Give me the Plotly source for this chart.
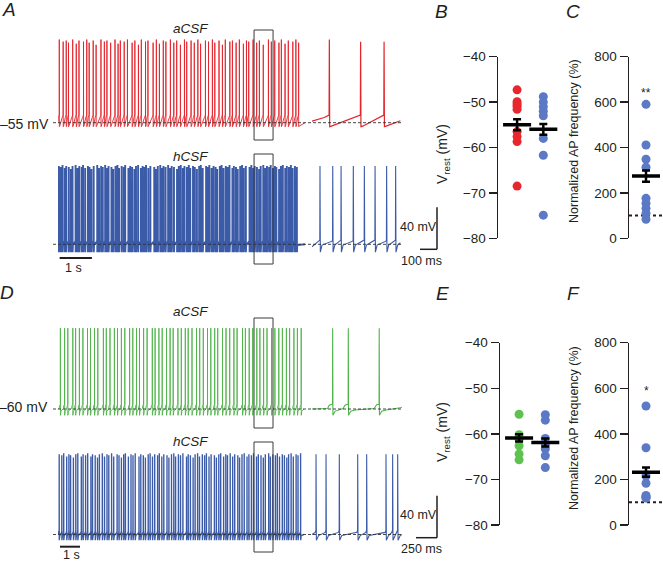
import plotly.graph_objects as go
from itertools import accumulate

W, H = 663, 561

# ---------------- data ----------------
# compressed recordings: inter-spike intervals in ms (first value = time of first spike)
red_acsf_isi_ms = [40, 120, 95, 70, 130, 110, 85, 140, 100, 75, 125, 90, 150, 105, 80, 115, 135, 95, 70, 120,
                   100, 145, 85, 110, 90, 130, 75, 160, 100, 95, 120, 80, 140, 105, 90, 115, 125, 70, 135, 100,
                   110, 85, 150, 95, 120, 75, 130, 105, 90, 140, 80, 115, 100, 125, 95, 70, 135, 110, 85, 120,
                   160, 90, 105, 130, 75, 115, 100, 140, 95, 85]
blue_hcsf_A_isi_ms = [25, 60, 55, 70, 45, 80, 65, 50, 95, 60, 55, 75, 40, 65, 85, 50, 60, 70, 110, 55,
                      65, 50, 75, 60, 45, 90, 55, 70, 60, 50, 80, 65, 45, 100, 55, 60, 70, 50, 65, 85,
                      55, 60, 45, 70, 65, 120, 50, 60, 75, 55, 45, 65, 80, 60, 50, 70, 95, 55, 60, 65,
                      50, 75, 60, 45, 85, 55, 65, 70, 50, 60, 105, 55, 45, 70, 60, 65, 50, 80, 55, 60,
                      70, 55, 60, 90, 45, 65, 55, 75, 60, 50, 65, 115, 55, 60, 45, 70, 65, 50, 80, 60,
                      55, 65, 50, 70, 60, 45, 85, 55, 60, 75, 50, 65, 60, 55, 70, 60]
green_acsf_isi_ms = [120, 210, 160, 250, 140, 190, 175, 230, 150, 200, 165, 280, 145, 185, 220, 155, 195, 170, 240, 160,
                     185, 150, 205, 175, 260, 140, 190, 165, 215, 180, 155, 235, 170, 200, 145, 190, 225, 160, 180, 210,
                     165, 195, 150, 240, 175, 185, 210, 160, 270, 145, 190, 175, 205, 155, 185, 170, 230, 165, 195, 180,
                     200, 160, 215, 175, 190]
blue_hcsf_D_isi_ms = [60, 130, 95, 150, 110, 85, 140, 120, 100, 175, 90, 125, 105, 160, 80, 135, 115, 95, 145, 110,
                      125, 90, 140, 105, 170, 95, 120, 115, 85, 150, 130, 100, 110, 190, 90, 125, 105, 140, 95, 120,
                      110, 145, 85, 125, 100, 160, 95, 130, 115, 90, 140, 105, 120, 180, 85, 110, 135, 100, 125, 95,
                      140, 115, 90, 130, 105, 165, 100, 120, 95, 145, 110, 85, 135, 125, 100, 155, 90, 120, 110, 140,
                      95, 125, 105, 150, 90, 135, 115, 100, 170, 85, 120, 130, 95, 110, 140, 105, 120, 90,
                      125, 110, 140, 95, 130]
# expanded windows: spike times in s
red_zoom_spikes_s = [0.102, 0.286, 0.424]
blue_A_zoom_spikes_s = [0.047, 0.122, 0.171, 0.243, 0.308, 0.371, 0.439, 0.492]
green_zoom_spikes_s = [0.246, 0.432, 0.800]
blue_D_zoom_spikes_s = [0.048, 0.167, 0.325, 0.544, 0.651, 0.881, 0.960, 1.020]
# spike peak variations (mV)
red_peak_var = [0, -2, -1, -3, 0, -4, -1, -2, 0, -3, -1, -5]
blue_peak_var = [0, -1, 1, -2, 0, -1, -3, 0, 1, -2]

# summary panels
vrest_B_acsf = [-47.3, -49.9, -50.4, -50.9, -51.6, -56.5, -57.6, -58.7, -68.5]
vrest_B_hcsf = [-48.8, -50.0, -51.0, -52.0, -53.0, -58.0, -61.7, -74.9]
vrest_B_mean = [-55.0, -56.0]
vrest_B_sem = [1.2, 1.2]
freq_C = [590, 411, 348, 313, 176, 154, 132, 110, 84]
freq_C_mean, freq_C_sem = 274, 25
vrest_E_acsf = [-55.7, -60.2, -61.2, -62.6, -64.4, -65.7]
vrest_E_hcsf = [-55.8, -57.0, -61.0, -62.2, -63.3, -64.8, -67.4]
vrest_E_mean = [-60.9, -61.9]
vrest_E_sem = [0.8, 0.9]
freq_F = [522, 339, 215, 183, 130, 125, 120, 118]
freq_F_mean, freq_F_sem = 232, 20
vrest_ticks = [-80, -70, -60, -50, -40]
freq_ticks = [0, 200, 400, 600, 800]

RED, BLUE, GREEN = "#e3242b", "#3b5ba8", "#4fb34a"
DOT_RED, DOT_BLUE, DOT_GREEN = "#e8262e", "#5b79c4", "#5ec24f"
INK = "#231f20"
FONT = "Liberation Sans, Arial, sans-serif"


def px_x(p):
    return p / W


def px_y(p):
    return 1 - p / H


def spikes_from_isi(isi):
    return [v / 1000.0 for v in accumulate(isi)]


def build_train(spikes, t_end, base, peak, pre, post, start, end, peak_var=None):
    xs, ys = [0.0], [base + start]
    sp = [t for t in spikes if t < t_end]
    for i, t in enumerate(sp):
        for dt, lv in pre:
            tt = t - dt
            if tt > xs[-1]:
                xs.append(tt); ys.append(base + lv)
        off = peak_var[i % len(peak_var)] if peak_var else 0
        xs.append(t); ys.append(peak + off)
        nxt = sp[i + 1] if i + 1 < len(sp) else t_end
        for dt, lv in post:
            if t + dt < nxt - 0.002:
                xs.append(t + dt); ys.append(base + lv)
    xs.append(t_end); ys.append(base + end)
    return xs, ys


K = 1.05  # px per mV
rows = {
    "A1": dict(top=28, bottom=142, base_px=122.7, base=-55),
    "A2": dict(top=150, bottom=270, base_px=244.3, base=-55),
    "D1": dict(top=305, bottom=432, base_px=409, base=-60),
    "D2": dict(top=437, bottom=561, base_px=534.5, base=-60),
}
for r in rows.values():
    r["range"] = [r["base"] - (r["bottom"] - r["base_px"]) / K, r["base"] + (r["base_px"] - r["top"]) / K]
    r["domain"] = [px_y(r["bottom"]), px_y(r["top"])]

A_comp_px, A_comp_rate = (58, 305), 32.3   # px per s
D_comp_px, D_comp_rate = (58, 304), 20.0
exp_px = (312, 442)
A_exp_rate, D_exp_rate = 170.0, 84.0
A_win, D_win = 0.52, 1.07
A_comp_end = (A_comp_px[1] - A_comp_px[0]) / A_comp_rate
D_comp_end = (D_comp_px[1] - D_comp_px[0]) / D_comp_rate

fig = go.Figure()


def add_line(x, y, xa, ya, color, width, dash=None):
    fig.add_trace(go.Scatter(x=x, y=y, mode="lines", xaxis=xa, yaxis=ya,
                             line=dict(color=color, width=width, dash=dash), hoverinfo="skip", showlegend=False))


# waveform shapes (relative mV)
red_pre = [(0.03, 5.0), (0.0015, 7.3)]
red_post = [(0.002, -3.8), (0.012, -3.3)]
blueA_pre = [(0.004, 3.0), (0.0012, 4.0)]
blueA_post = [(0.002, -7.5), (0.012, -0.7)]
green_pre = [(0.06, 0.5), (0.045, 3.0), (0.03, 4.0), (0.0015, 4.5)]
green_post = [(0.003, -6.0), (0.03, -2.0), (0.08, -1.0)]
blueD_pre = [(0.01, 2.0), (0.0015, 4.0)]
blueD_post = [(0.004, -5.5), (0.03, -1.0)]

# A row 1 (red aCSF)
r = rows["A1"]
x, y = build_train(spikes_from_isi(red_acsf_isi_ms), A_comp_end, r["base"], 24.2, red_pre, red_post, 0, 0, red_peak_var)
add_line(x, y, "x", "y", RED, 0.9)
x, y = build_train(red_zoom_spikes_s, A_win, r["base"], 24.2, red_pre, red_post, 1.5, 1.9, [0, -2, -2])
add_line(x, y, "x2", "y", RED, 1.2)
# A row 2 (blue hCSF)
r = rows["A2"]
x, y = build_train(spikes_from_isi(blue_hcsf_A_isi_ms), A_comp_end, r["base"], 19.6, blueA_pre, blueA_post, 0, 0, blue_peak_var)
add_line(x, y, "x", "y2", BLUE, 1.9)
x, y = build_train(blue_A_zoom_spikes_s, A_win, r["base"], 19.6, blueA_pre, blueA_post, -2.3, 1.5)
add_line(x, y, "x2", "y2", BLUE, 1.1)
# D row 1 (green aCSF)
r = rows["D1"]
x, y = build_train(spikes_from_isi(green_acsf_isi_ms), D_comp_end, r["base"], 17.0, green_pre, green_post, 0, 0)
add_line(x, y, "x3", "y3", GREEN, 0.9)
x, y = build_train(green_zoom_spikes_s, D_win, r["base"], 17.0, green_pre, green_post, 0, 1.5)
add_line(x, y, "x4", "y3", GREEN, 1.1)
# D row 2 (blue hCSF)
r = rows["D2"]
x, y = build_train(spikes_from_isi(blue_hcsf_D_isi_ms), D_comp_end, r["base"], 16.4, blueD_pre, blueD_post, 0, 0, blue_peak_var)
add_line(x, y, "x3", "y4", BLUE, 1.35)
x, y = build_train(blue_D_zoom_spikes_s, D_win, r["base"], 16.4, blueD_pre, blueD_post, 0, 0)
add_line(x, y, "x4", "y4", BLUE, 1.1)


# ---------------- summary panels ----------------
def dots(xval, vals, color, xa, ya):
    fig.add_trace(go.Scatter(x=[xval] * len(vals), y=vals, mode="markers", xaxis=xa, yaxis=ya,
                             marker=dict(color=color, size=9, line=dict(width=0)),
                             hoverinfo="skip", showlegend=False))


def mean_bar(xs, means, sems, xa, ya):
    fig.add_trace(go.Scatter(x=xs, y=means, mode="markers", xaxis=xa, yaxis=ya,
                             marker=dict(symbol="line-ew", size=20, line=dict(color="black", width=3.5)),
                             error_y=dict(type="data", array=sems, color="black", thickness=2.5, width=4),
                             hoverinfo="skip", showlegend=False))


dots(0.8, vrest_B_acsf, DOT_RED, "x5", "y5")
dots(1.9, vrest_B_hcsf, DOT_BLUE, "x5", "y5")
mean_bar([0.8, 1.9], vrest_B_mean, vrest_B_sem, "x5", "y5")

add_line([0, 2], [100, 100], "x6", "y6", INK, 2, "dot")
dots(1.0, freq_C, DOT_BLUE, "x6", "y6")
mean_bar([1.0], [freq_C_mean], [freq_C_sem], "x6", "y6")

dots(0.8, vrest_E_acsf, DOT_GREEN, "x7", "y7")
dots(1.9, vrest_E_hcsf, DOT_BLUE, "x7", "y7")
mean_bar([0.8, 1.9], vrest_E_mean, vrest_E_sem, "x7", "y7")

add_line([0, 2], [100, 100], "x8", "y8", INK, 2, "dot")
dots(1.0, freq_F, DOT_BLUE, "x8", "y8")
mean_bar([1.0], [freq_F_mean], [freq_F_sem], "x8", "y8")

# ---------------- axes ----------------
hidden = dict(visible=False, showgrid=False, zeroline=False, fixedrange=True, automargin=False)
layout = dict(
    xaxis=dict(domain=[px_x(A_comp_px[0]), px_x(A_comp_px[1])], range=[0, A_comp_end], anchor="y", **hidden),
    xaxis2=dict(domain=[px_x(exp_px[0]), px_x(exp_px[1])], range=[0, (exp_px[1] - exp_px[0]) / A_exp_rate], anchor="y", **hidden),
    xaxis3=dict(domain=[px_x(D_comp_px[0]), px_x(D_comp_px[1])], range=[0, D_comp_end], anchor="y3", **hidden),
    xaxis4=dict(domain=[px_x(exp_px[0]), px_x(exp_px[1])], range=[0, (exp_px[1] - exp_px[0]) / D_exp_rate], anchor="y3", **hidden),
    yaxis=dict(domain=rows["A1"]["domain"], range=rows["A1"]["range"], anchor="x", **hidden),
    yaxis2=dict(domain=rows["A2"]["domain"], range=rows["A2"]["range"], anchor="x", **hidden),
    yaxis3=dict(domain=rows["D1"]["domain"], range=rows["D1"]["range"], anchor="x3", **hidden),
    yaxis4=dict(domain=rows["D2"]["domain"], range=rows["D2"]["range"], anchor="x3", **hidden),
)


def stat_axes(n, xpx, ypx, yrange, ticks):
    layout[f"xaxis{n}"] = dict(domain=[px_x(xpx[0]), px_x(xpx[1])], range=[0, 2.6] if xpx[1] - xpx[0] > 40 else [0, 2],
                               anchor=f"y{n}", **hidden)
    layout[f"yaxis{n}"] = dict(domain=[px_y(ypx[1]), px_y(ypx[0])], range=yrange, anchor=f"x{n}",
                               tickvals=ticks, ticks="outside", ticklen=8, tickwidth=1.5, tickcolor=INK,
                               showline=True, linewidth=1.5, linecolor=INK, showgrid=False, zeroline=False,
                               tickfont=dict(family=FONT, size=13.5, color=INK), fixedrange=True, automargin=False)


stat_axes(5, (498, 560), (56.7, 238.3), [-80, -40], vrest_ticks)
stat_axes(6, (629, 663), (56.7, 238.3), [0, 800], freq_ticks)
stat_axes(7, (500, 562), (342.7, 525), [-80, -40], vrest_ticks)
stat_axes(8, (629, 663), (342.7, 525), [0, 800], freq_ticks)

# ---------------- shapes: baselines, boxes, scale bars ----------------
shapes = []
for key in rows:
    shapes.append(dict(type="line", xref="paper", yref={"A1": "y", "A2": "y2", "D1": "y3", "D2": "y4"}[key],
                       x0=px_x(53), x1=px_x(401), y0=rows[key]["base"], y1=rows[key]["base"],
                       line=dict(color="#333333", width=0.9, dash="3px,2px")))
A_box = (6.07, 6.07 + (273 - 254) / A_comp_rate)
D_box = (9.8, 9.8 + (273 - 254) / D_comp_rate)
for xr, (x0, x1), (t, b) in [("x", A_box, (30, 140)), ("x", A_box, (154, 264)),
                             ("x3", D_box, (318, 428)), ("x3", D_box, (442, 552))]:
    shapes.append(dict(type="rect", xref=xr, yref="paper", x0=x0, x1=x1, y0=px_y(b), y1=px_y(t),
                       line=dict(color="#3a3a3a", width=1), fillcolor="rgba(0,0,0,0)"))
# scale bars
bar = dict(color=INK, width=1.5)
tA = (437 - exp_px[0]) / A_exp_rate
tD = (437 - exp_px[0]) / D_exp_rate
yA = rows["A2"]["base"] - (249.3 - rows["A2"]["base_px"]) / K
yD = rows["D2"]["base"] - (537.7 - rows["D2"]["base_px"]) / K
shapes += [
    dict(type="line", xref="x2", yref="y2", x0=tA, x1=tA, y0=yA, y1=yA + 40, line=bar),
    dict(type="line", xref="x2", yref="y2", x0=tA - 0.1, x1=tA, y0=yA, y1=yA, line=bar),
    dict(type="line", xref="x4", yref="y4", x0=tD, x1=tD, y0=yD, y1=yD + 40, line=bar),
    dict(type="line", xref="x4", yref="y4", x0=tD - 0.25, x1=tD, y0=yD, y1=yD, line=bar),
]
y1sA = rows["A2"]["base"] - (258 - rows["A2"]["base_px"]) / K
y1sD = rows["D2"]["base"] - (546.7 - rows["D2"]["base_px"]) / K
shapes += [
    dict(type="line", xref="x", yref="y2", x0=0.05, x1=1.05, y0=y1sA, y1=y1sA, line=dict(color=INK, width=2)),
    dict(type="line", xref="x3", yref="y4", x0=0.1, x1=1.1, y0=y1sD, y1=y1sD, line=dict(color=INK, width=2)),
]

# ---------------- text ----------------
anns = []


def ann(text, x, y, size, xanchor="center", angle=0):
    anns.append(dict(text=text, x=px_x(x), y=px_y(y), xref="paper", yref="paper", showarrow=False,
                     xanchor=xanchor, yanchor="middle", textangle=angle,
                     font=dict(family=FONT, size=size, color=INK)))


for t, x, y in [("A", 9, 10), ("B", 441, 11), ("C", 573, 11), ("D", 7, 292), ("E", 442, 293), ("F", 573, 293)]:
    ann(f"<i>{t}</i>", x, y, 19)
for t, y in [("aCSF", 28), ("hCSF", 156), ("aCSF", 311), ("hCSF", 441)]:
    ann(f"<i>{t}</i>", 191, y, 13.5)
ann("–55 mV", 51, 124, 14, xanchor="right")
ann("–60 mV", 50, 407, 14, xanchor="right")
ann("40 mV", 418, 227, 12.5)
ann("100 ms", 421, 261, 12.5)
ann("40 mV", 418, 515, 12.5)
ann("250 ms", 421, 549, 12.5)
ann("1 s", 73, 268, 12.5)
ann("1 s", 71, 555, 12.5)
ann("V<sub>rest</sub> (mV)", 443, 154, 14, angle=-90)
ann("V<sub>rest</sub> (mV)", 443, 432, 14, angle=-90)
ann("Normalized AP frequency (%)", 574, 141, 12.5, angle=-90)
ann("Normalized AP frequency (%)", 574, 428, 12.5, angle=-90)
anns.append(dict(text="**", x=1.0, y=640, xref="x6", yref="y6", showarrow=False,
                 font=dict(family=FONT, size=12, color=INK)))
anns.append(dict(text="*", x=1.0, y=588, xref="x8", yref="y8", showarrow=False,
                 font=dict(family=FONT, size=12, color=INK)))

fig.update_layout(**layout)
fig.update_layout(template="none", width=W, height=H, autosize=False, margin=dict(l=0, r=0, t=0, b=0, pad=0),
                  paper_bgcolor="white", plot_bgcolor="rgba(0,0,0,0)", showlegend=False,
                  shapes=shapes, annotations=anns, font=dict(family=FONT, color=INK))
fig.write_html("out.html", config={"displayModeBar": False, "staticPlot": True},
               post_script="document.body.style.margin='0';document.body.style.overflow='hidden';")
